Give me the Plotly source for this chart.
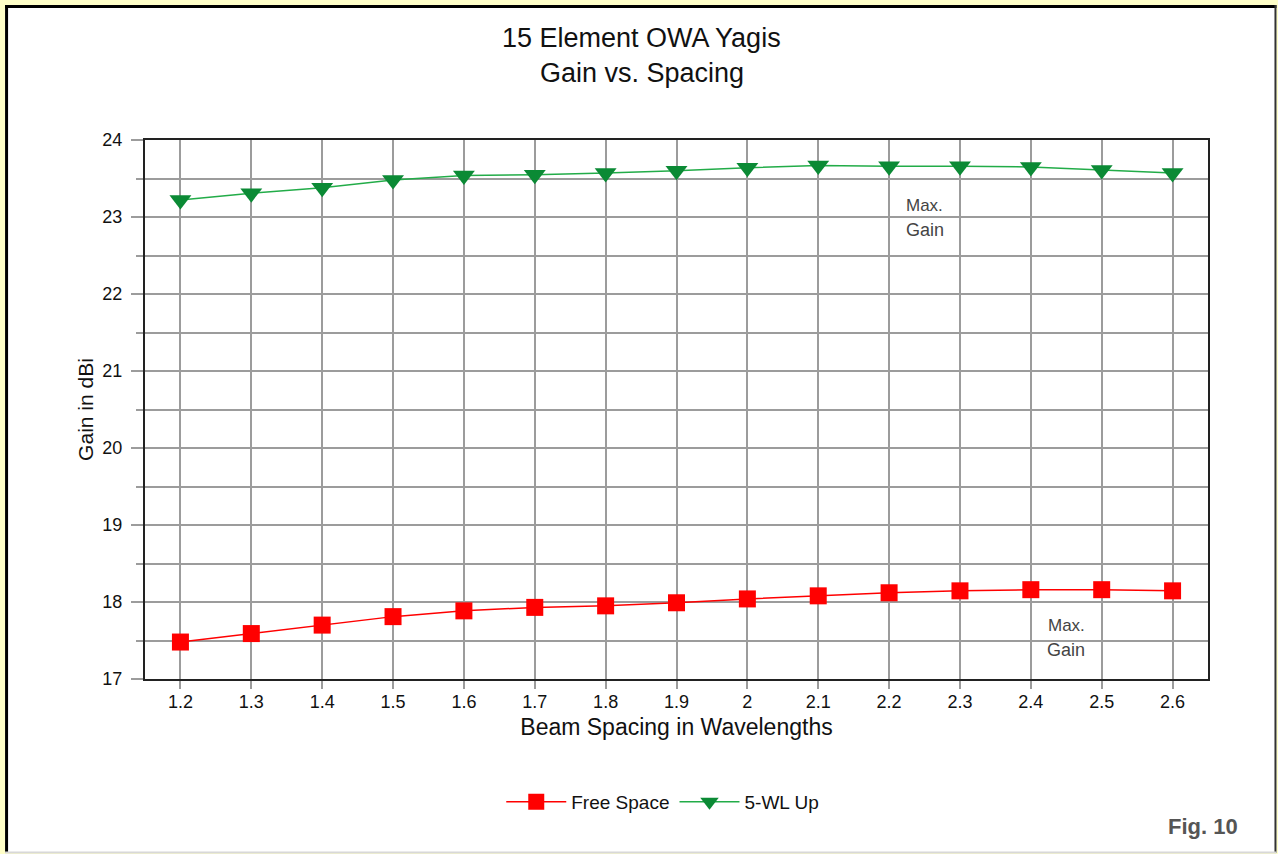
import plotly.graph_objects as go

# ---- data ----
spacing = [1.2, 1.3, 1.4, 1.5, 1.6, 1.7, 1.8, 1.9, 2.0, 2.1, 2.2, 2.3, 2.4, 2.5, 2.6]
spacing_labels = ["1.2", "1.3", "1.4", "1.5", "1.6", "1.7", "1.8", "1.9", "2", "2.1",
                  "2.2", "2.3", "2.4", "2.5", "2.6"]
free_space = [17.48, 17.59, 17.70, 17.81, 17.885, 17.93, 17.95, 17.99, 18.04, 18.08,
              18.12, 18.145, 18.16, 18.16, 18.145]
wl5_up = [23.22, 23.31, 23.38, 23.48, 23.54, 23.55, 23.57, 23.60, 23.64, 23.67,
          23.66, 23.66, 23.65, 23.61, 23.57]
y_ticks = [17, 18, 19, 20, 21, 22, 23, 24]

W, H = 1278, 854
L, R, T, B = 145, 1208.5, 140, 679


def px(p):
    return (p - L) / (R - L)


def py(p):
    return (B - p) / (B - T)


FONT = "Liberation Sans, Arial, sans-serif"
GRID = "#9c9c9c"
BG = "#ffffc8"

fig = go.Figure()
fig.add_trace(go.Scatter(
    x=spacing, y=free_space, name="Free Space", mode="lines+markers",
    line=dict(color="#ff0000", width=1.5),
    marker=dict(symbol="square", size=17, color="#ff0000", line=dict(width=0)),
))
fig.add_trace(go.Scatter(
    x=spacing, y=wl5_up, name="5-WL Up", mode="lines+markers",
    line=dict(color="#22ac48", width=1.5),
    marker=dict(symbol="triangle-down", size=19, color="#0b8a35", line=dict(width=0)),
))

shapes = [
    dict(type="rect", xref="paper", yref="paper", x0=px(5), x1=px(1277), y0=py(5), y1=py(853),
         fillcolor="white", line=dict(width=0), layer="below"),
    dict(type="line", xref="paper", yref="paper", x0=px(6.5), x1=px(6.5), y0=py(5), y1=py(853),
         line=dict(color="black", width=3)),
    dict(type="line", xref="paper", yref="paper", x0=px(5), x1=px(1277), y0=py(6.5), y1=py(6.5),
         line=dict(color="black", width=3)),
    dict(type="line", xref="paper", yref="paper", x0=px(1276), x1=px(1276), y0=py(5), y1=py(853),
         line=dict(color="#333333", width=2)),
    dict(type="line", xref="paper", yref="paper", x0=px(5), x1=px(1277), y0=py(852.5), y1=py(852.5),
         line=dict(color="#d8d8d8", width=2)),
]


def ann(text, x, y, size, color, xref="paper", bold=False):
    return dict(text=("<b>%s</b>" % text) if bold else text, xref=xref, yref="paper",
                x=x, y=py(y), xanchor="center", yanchor="middle", showarrow=False,
                font=dict(family=FONT, size=size, color=color))


annotations = [
    ann("15 Element OWA Yagis", px(642), 38, 27, "#111"),
    ann("Gain vs. Spacing", px(642), 73, 27, "#111"),
    ann("Max.", 2.25, 205, 17, "#444", xref="x"),
    ann("Gain", 2.25, 230, 18, "#444", xref="x"),
    ann("Max.", 2.45, 625, 17, "#444", xref="x"),
    ann("Gain", 2.45, 650, 18, "#444", xref="x"),
    ann("Fig. 10", px(1203), 826, 22, "#555", bold=True),
]

fig.update_layout(
    width=W, height=H,
    margin=dict(l=L, r=W - R, t=T, b=H - B, pad=0),
    paper_bgcolor=BG, plot_bgcolor="white",
    font=dict(family=FONT, size=18, color="#111"),
    shapes=shapes, annotations=annotations,
    showlegend=True,
    legend=dict(orientation="h", xanchor="center", x=px(663), yanchor="middle", y=py(802),
                font=dict(family=FONT, size=19, color="#111"), bgcolor="rgba(0,0,0,0)",
                itemwidth=60),
    xaxis=dict(
        range=[1.15, 2.65], tickvals=spacing, ticktext=spacing_labels,
        showgrid=True, gridcolor=GRID, gridwidth=2,
        showline=True, linecolor="#222", linewidth=2, mirror=True,
        ticks="outside", ticklen=8, tickcolor=GRID, tickwidth=2,
        tickfont=dict(family=FONT, size=18, color="#111"), zeroline=False,
        ticklabelstandoff=-3,
        title=dict(text="Beam Spacing in Wavelengths", font=dict(family=FONT, size=23, color="#111"),
                   standoff=8),
    ),
    yaxis=dict(
        range=[17, 24], tickvals=y_ticks,
        showgrid=True, gridcolor=GRID, gridwidth=2,
        showline=True, linecolor="#222", linewidth=2, mirror=True,
        ticks="outside", ticklen=12, tickcolor=GRID, tickwidth=2,
        tickfont=dict(family=FONT, size=18, color="#111"), zeroline=False,
        ticklabelstandoff=5,
        minor=dict(dtick=0.5, tick0=17, ticks="outside", ticklen=7, tickcolor=GRID, tickwidth=2,
                   showgrid=True, gridcolor=GRID, gridwidth=2),
        title=dict(text="Gain in dBi", font=dict(family=FONT, size=21, color="#111"), standoff=3),
    ),
)

fig.write_html(
    "out.html",
    config={"displayModeBar": False},
    post_script="document.body.style.margin='0';document.body.style.background='%s';" % BG,
)
